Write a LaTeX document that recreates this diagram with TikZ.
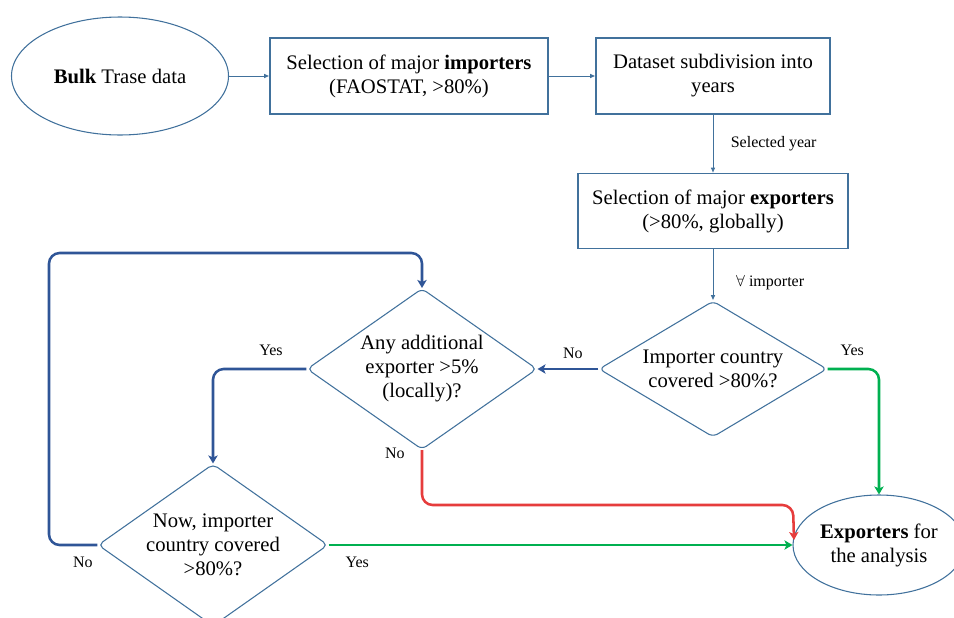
\documentclass[tikz,border=0pt]{standalone}
\usepackage{fontspec}
\setmainfont{Liberation Serif}
\usetikzlibrary{shapes.geometric,arrows.meta,positioning}

\definecolor{boxblue}{RGB}{65,113,156}
\definecolor{loopblue}{RGB}{47,85,151}
\definecolor{yesgreen}{RGB}{0,176,80}
\definecolor{nored}{RGB}{230,60,60}

\begin{document}
\begin{tikzpicture}[x=0.75pt,y=0.75pt,yscale=-1,xscale=1,
  box/.style={draw=boxblue,line width=0.8pt,rectangle,align=center,inner sep=0pt,font=\fontsize{15.5}{18}\selectfont},
  oval/.style={draw=boxblue,line width=0.8pt,ellipse,align=center,inner sep=0pt,font=\fontsize{15.5}{18}\selectfont},
  decision/.style={draw=boxblue,line width=0.8pt,diamond,rounded corners=4pt,align=center,inner sep=-1pt,font=\fontsize{15.5}{18}\selectfont},
  thinarrow/.style={draw=boxblue,line width=0.7pt,-{Latex[length=4pt,width=3.5pt]}},
  thickarrow/.style={line width=1.9pt,rounded corners=8pt,-{Stealth[length=6pt,width=7pt,inset=1.5pt]}},
  lbl/.style={text=black,font=\fontsize{12}{14}\selectfont,inner sep=0pt}
]
%set diagram size 954 x 618
\useasboundingbox (0,0) rectangle (954,618);

% Shapes
\draw (120,76) node (bulk) [oval,minimum width=162.75pt,minimum height=88.5pt] {\textbf{Bulk} Trase data};
\draw (409,76) node (imp) [box,minimum width=208.5pt,minimum height=57pt] {Selection of major \textbf{importers}\\(FAOSTAT, >80\%)};
\draw (713,76) node (years) [box,minimum width=175.5pt,minimum height=57pt] {Dataset subdivision into\\years};
\draw (713,211) node (expsel) [box,minimum width=202.5pt,minimum height=56.25pt] {Selection of major \textbf{exporters}\\(>80\%, globally)};
\draw (713,369) node (covered) [decision,aspect=1.68,minimum width=171pt,minimum height=102pt] {Importer country\\covered >80\%?};
\draw (422,369) node (additional) [decision,aspect=1.43,minimum width=172.5pt,minimum height=120.75pt] {Any additional\\exporter >5\%\\(locally)?};
\draw (213,545) node (nowcovered) [decision,aspect=1.42,minimum width=172.5pt,minimum height=121.5pt] {Now, importer\\country covered\\>80\%?};
\draw (879,545) node (exporters) [oval,minimum width=129pt,minimum height=75pt] {\textbf{Exporters} for\\the analysis};

\coordinate (redbend) at (793,505);
\coordinate (redend) at (794,540);
\coordinate (loopcorner) at (49,253);

% Thin connectors
\draw [thinarrow] (bulk.east) -- (imp.west);
\draw [thinarrow] (imp.east) -- (years.west);
\draw [thinarrow] (years) -- node (selyear) [lbl,right=13pt] {Selected year} (expsel);
\draw [thinarrow] (expsel) -- node (forall) [lbl,pos=0.65,right=17pt] {$\forall$ importer} (covered);

% Decision connectors
\draw [thickarrow,loopblue] (covered) -- node (nocov) [lbl,pos=0.42,above=7pt] {No} (additional);
\draw [thickarrow,yesgreen] (covered.east) -| node (yescov) [lbl,pos=0.24,above=9pt] {Yes} (exporters.north);
\draw [thickarrow,loopblue] (additional.west) -| node (yesadd) [lbl,pos=0.19,above=9pt] {Yes} (nowcovered.north);
\draw [thickarrow,nored] (additional.south) |- node (noadd) [lbl,pos=0.03,left=12pt] {No} (redbend) -- (redend);
\draw [thickarrow,yesgreen] (nowcovered.east) -- node (yesnow) [lbl,pos=0.062,below=8pt] {Yes} (exporters.west);
\draw [thickarrow,loopblue] (nowcovered.west) -| node (nonow) [lbl,pos=0.15,below=8pt] {No} (loopcorner) -| (additional.north);

\end{tikzpicture}
\end{document}
